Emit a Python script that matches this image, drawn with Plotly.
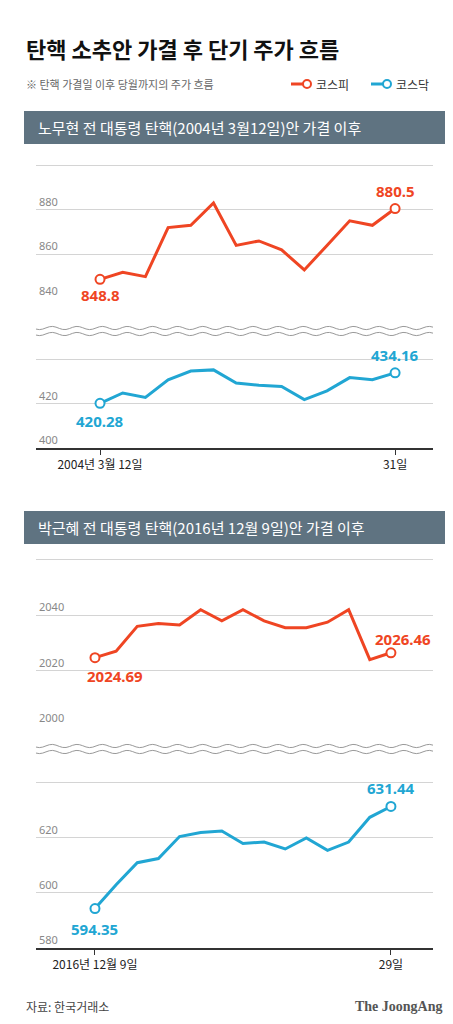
import numpy as np
import plotly.graph_objects as go

ORANGE = "#ef4523"
BLUE = "#21a6d3"
BAR = "#5f7381"

# 2004 (노무현)
kospi_04 = [848.8, 852, 850, 872, 873, 883, 864, 866, 862, 853, 864, 875, 873, 880.5]
kosdaq_04 = [420.28, 425, 423, 431, 435, 435.5, 429.5, 428.5, 428, 422, 426, 432, 431, 434.16]
# 2016 (박근혜)
kospi_16 = [2024.69, 2027, 2036, 2037, 2036.5, 2042, 2038, 2042, 2038, 2035.5, 2035.5, 2037.5, 2042, 2024, 2026.46]
kosdaq_16 = [594.35, 603, 611, 612.5, 620.5, 622, 622.5, 618, 618.5, 616, 620, 615.5, 618.5, 627.5, 631.44]

H = 1024.0
W = 453.0


def py(px):
    return 1 - px / H


def pxx(px):
    return px / W


fig = go.Figure()


def add_series(vals, xa, ya, color):
    n = len(vals)
    x = list(range(n))
    fig.add_trace(go.Scatter(x=x, y=vals, xaxis=xa, yaxis=ya, mode="lines",
                             line=dict(color=color, width=3), hoverinfo="skip"))
    fig.add_trace(go.Scatter(x=[0, n - 1], y=[vals[0], vals[-1]], xaxis=xa, yaxis=ya,
                             mode="markers", cliponaxis=False,
                             marker=dict(size=9, color="white", line=dict(color=color, width=2)),
                             hoverinfo="skip"))


add_series(kospi_04, "x", "y", ORANGE)
add_series(kosdaq_04, "x", "y2", BLUE)
add_series(kospi_16, "x2", "y3", ORANGE)
add_series(kosdaq_16, "x2", "y4", BLUE)

yax = dict(showgrid=True, gridcolor="#d4d4d4", gridwidth=1, zeroline=False, showline=False,
           ticklabelposition="inside top", tickfont=dict(color="#888", size=11, family="Noto Sans"),
           ticks="", anchor="x")
xax = dict(showgrid=False, zeroline=False, showline=True, linecolor="#333", linewidth=1.5,
           ticks="outside", ticklen=5, tickcolor="#333",
           tickfont=dict(color="#222", size=12, family="Noto Sans CJK KR"),
           domain=[pxx(28), pxx(425)])

# small pad so the top gridline/tick label is kept
fig.update_layout(
    width=453, height=1024, margin=dict(l=0, r=0, t=0, b=0),
    paper_bgcolor="white", plot_bgcolor="white", showlegend=False,
    xaxis=dict(xax, range=[-2.82, 14.67], anchor="y2", tickvals=[0, 13],
               ticktext=["2004년 3월 12일", "31일"]),
    xaxis2=dict(xax, range=[-2.79, 15.99], anchor="y4", tickvals=[0, 14],
                ticktext=["2016년 12월 9일", "29일"]),
    yaxis=dict(yax, domain=[py(291), py(155)], range=[840, 900.9], tickvals=[840, 860, 880, 900]),
    yaxis2=dict(yax, domain=[py(440), py(350)], range=[400, 440.9], tickvals=[400, 420, 440]),
    yaxis3=dict(yax, anchor="x2", domain=[py(718), py(550)], range=[2000, 2060.7],
                tickvals=[2000, 2020, 2040, 2060]),
    yaxis4=dict(yax, anchor="x2", domain=[py(940), py(773)], range=[580, 640.7],
                tickvals=[580, 600, 620, 640]),
)

shapes = []
# header bars
for top in (103, 503):
    shapes.append(dict(type="rect", xref="paper", yref="paper", x0=pxx(16), x1=pxx(437),
                       y0=py(top + 33), y1=py(top), fillcolor=BAR, line_width=0))


# wavy break lines
def wave(ycen):
    xs = np.linspace(28, 425, 120)
    ys = ycen + 1.6 * np.sin(xs / 4.0)
    return "M " + " L ".join(f"{pxx(a):.5f},{py(b):.5f}" for a, b in zip(xs, ys))


for yc in (320, 326, 738, 744):
    shapes.append(dict(type="path", xref="paper", yref="paper", path=wave(yc),
                       line=dict(color="#999", width=1)))
# legend lines
for x0, c in ((283, ORANGE), (363, BLUE)):
    shapes.append(dict(type="line", xref="paper", yref="paper", x0=pxx(x0), x1=pxx(x0 + 18),
                       y0=py(76), y1=py(76), line=dict(color=c, width=3)))
    shapes.append(dict(type="circle", xref="paper", yref="paper", x0=pxx(x0 + 12), x1=pxx(x0 + 20),
                       y0=py(80), y1=py(72), fillcolor="white", line=dict(color=c, width=2)))
fig.update_layout(shapes=shapes)

KR = "Noto Sans CJK KR"
ann = [
    dict(text="<b>탄핵 소추안 가결 후 단기 주가 흐름</b>", x=pxx(16), y=py(40),
         font=dict(size=22, color="#111", family=KR), xanchor="left"),
    dict(text="※ 탄핵 가결일 이후 당월까지의 주가 흐름", x=pxx(16), y=py(76),
         font=dict(size=11, color="#666", family=KR), xanchor="left"),
    dict(text="코스피", x=pxx(306), y=py(76), font=dict(size=12, color="#333", family=KR), xanchor="left"),
    dict(text="코스닥", x=pxx(386), y=py(76), font=dict(size=12, color="#333", family=KR), xanchor="left"),
    dict(text="노무현 전 대통령 탄핵(2004년 3월12일)안 가결 이후", x=pxx(28), y=py(119),
         font=dict(size=15, color="white", family=KR), xanchor="left"),
    dict(text="박근혜 전 대통령 탄핵(2016년 12월 9일)안 가결 이후", x=pxx(28), y=py(519),
         font=dict(size=15, color="white", family=KR), xanchor="left"),
    dict(text="자료: 한국거래소", x=pxx(16), y=py(998), font=dict(size=12, color="#444", family=KR),
         xanchor="left"),
    dict(text="<b>The JoongAng</b>", x=pxx(437), y=py(998),
         font=dict(size=14, color="#555", family="Liberation Serif"), xanchor="right"),
]
for a in ann:
    a.update(xref="paper", yref="paper", showarrow=False, yanchor="middle")


def val_label(text, x, y, xr, yr, color, xanchor, yshift, xshift=0):
    return dict(text=f"<b>{text}</b>", x=x, y=y, xref=xr, yref=yr, showarrow=False,
                xanchor=xanchor, yshift=yshift, xshift=xshift,
                font=dict(size=15, color=color, family="Noto Sans"))


ann += [
    val_label(f"{kospi_04[0]}", 0, kospi_04[0], "x", "y", ORANGE, "center", -16),
    val_label(f"{kospi_04[-1]}", 13, kospi_04[-1], "x", "y", ORANGE, "center", 18),
    val_label(f"{kosdaq_04[0]}", 0, kosdaq_04[0], "x", "y2", BLUE, "center", -18),
    val_label(f"{kosdaq_04[-1]}", 13, kosdaq_04[-1], "x", "y2", BLUE, "center", 18),
    val_label(f"{kospi_16[0]}", 0, kospi_16[0], "x2", "y3", ORANGE, "left", -18, -10),
    val_label(f"{kospi_16[-1]}", 14, kospi_16[-1], "x2", "y3", ORANGE, "center", 14, 12),
    val_label(f"{kosdaq_16[0]}", 0, kosdaq_16[0], "x2", "y4", BLUE, "center", -20),
    val_label(f"{kosdaq_16[-1]}", 14, kosdaq_16[-1], "x2", "y4", BLUE, "center", 18),
]
fig.update_layout(annotations=ann)

fig.write_html("out.html")
